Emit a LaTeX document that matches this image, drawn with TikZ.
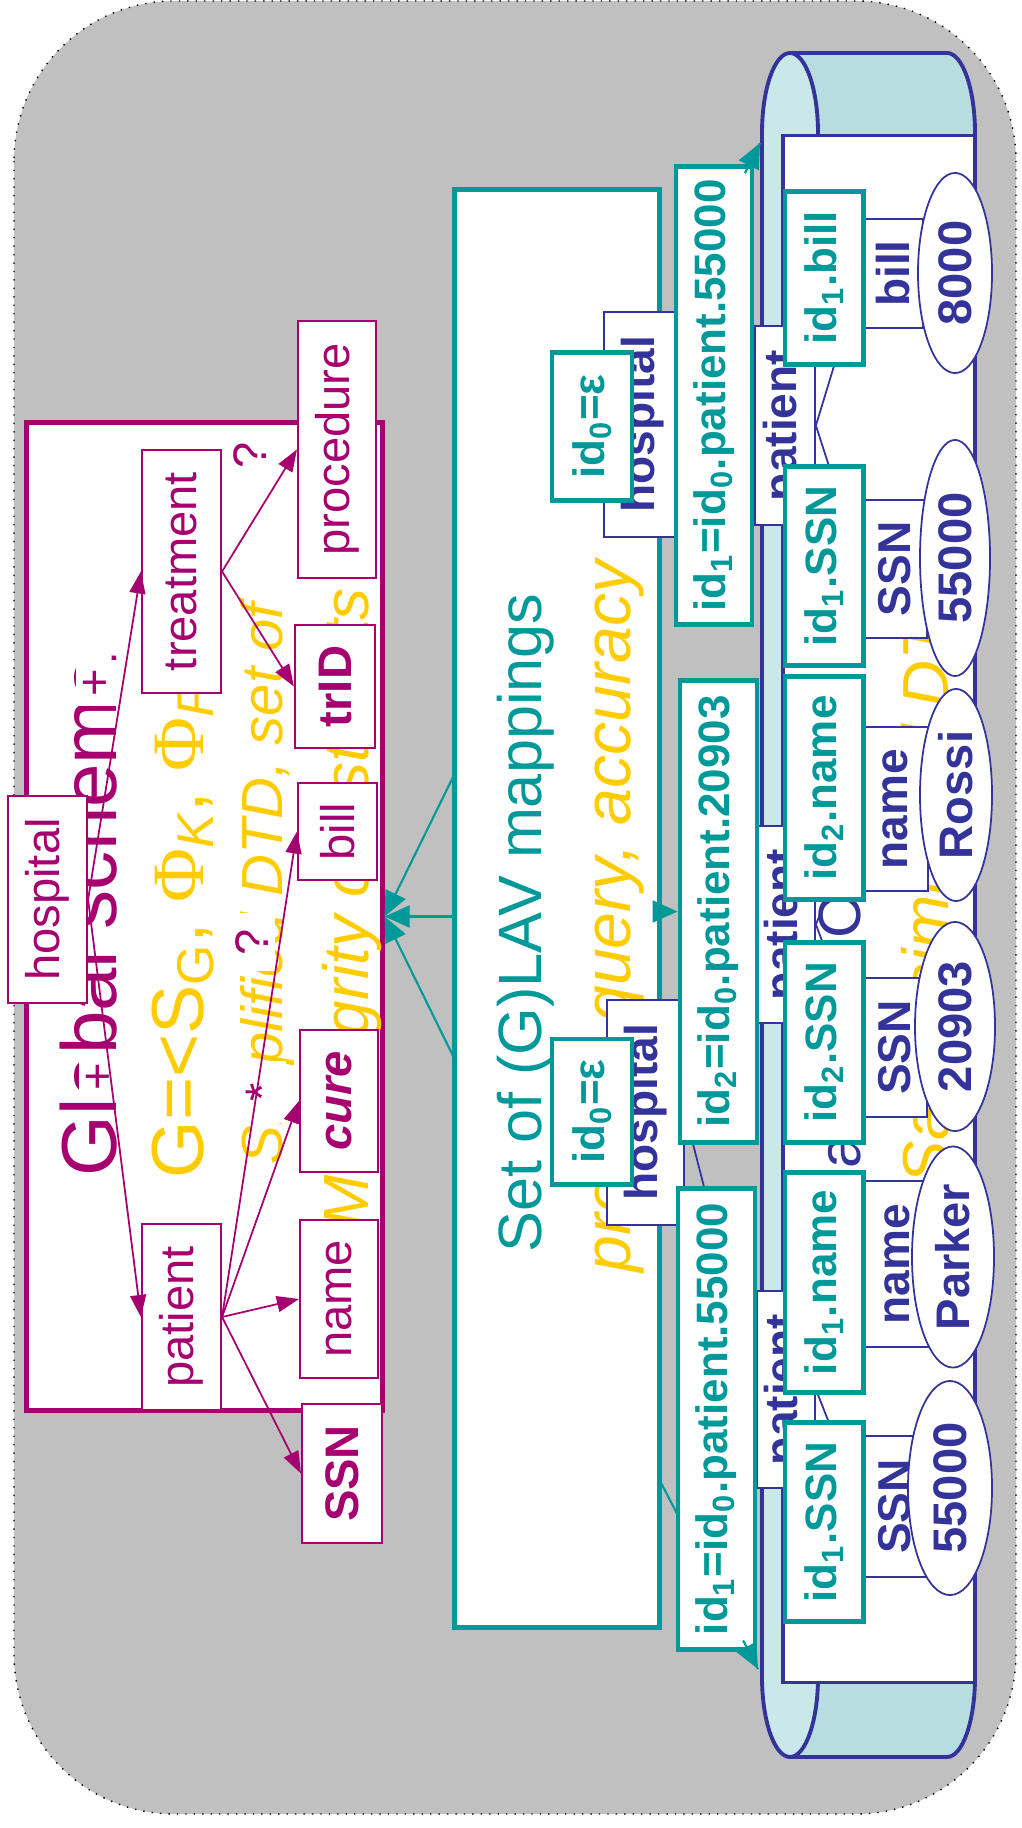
\documentclass[tikz,border=0pt]{standalone}
\usepackage{fontspec}
\setmainfont{Liberation Sans}
\newfontfamily\greekfont{Liberation Serif}
\usetikzlibrary{arrows.meta,shapes.geometric,calc}

\definecolor{globmag}{RGB}{166,0,112}
\definecolor{mapteal}{RGB}{0,153,153}
\definecolor{noteyel}{RGB}{255,204,0}
\definecolor{srcblue}{RGB}{51,51,153}
\definecolor{slidegray}{RGB}{192,192,192}
\definecolor{canbody}{RGB}{183,221,225}
\definecolor{canface}{RGB}{202,231,234}

\newcommand{\pts}[1]{\fontsize{#1}{#1}\selectfont}

\tikzset{
  gnode/.style={draw=globmag, line width=0.6pt, fill=white, text=globmag,
    rotate=90, inner sep=0pt, font=\pts{13.4pt}},
  glink/.style={globmag, line width=0.5pt, -{Triangle[length=2.2mm,width=1.6mm]}},
  card/.style={fill=white, text=globmag, rotate=90, inner sep=2pt, font=\pts{13.4pt}},
  snode/.style={draw=srcblue, line width=0.5pt, fill=white, text=srcblue,
    rotate=90, inner sep=0pt, font=\bfseries\pts{13.1pt}},
  sval/.style={ellipse, draw=srcblue, line width=0.5pt, fill=white, text=srcblue,
    rotate=90, inner sep=0pt, font=\bfseries\pts{13.4pt}},
  slink/.style={srcblue, line width=0.5pt},
  idbox/.style={draw=mapteal, line width=1.4pt, fill=white, text=mapteal,
    rotate=90, inner sep=0pt, font=\bfseries\pts{12.5pt}},
  maplink/.style={mapteal, line width=0.6pt, -{Triangle[length=2.5mm,width=2.2mm]}},
  slidetext/.style={rotate=90, anchor=base west, inner sep=0pt}
}

\begin{document}
\begin{tikzpicture}[x=0.01cm,y=-0.01cm]
\useasboundingbox (0,0) rectangle (1021,1828);
% slide background
\draw[black, dotted, line width=0.4pt, fill=slidegray, rounded corners=1.6cm]
  (14,1) rectangle (1016,1814);

% global schema
\node[draw=globmag, line width=1.4pt, fill=white, inner sep=0pt,
  minimum width=3.55cm, minimum height=9.87cm] (globbox) at (204.5,916.5) {};
\node[slidetext, text=globmag, font=\pts{22.2pt}] (globtitle) at (116,1177) {Global schema};
\node[slidetext, text=noteyel, font=\pts{21pt}] (globdef) at (203,1179)
  {G=<S\textsubscript{G}, {\greekfont Φ}\textsubscript{\itshape K}, {\greekfont Φ}\textsubscript{\itshape FK}};
\node[slidetext, text=noteyel, font=\itshape\pts{16.5pt}] (globdtd) at (282,1165) {Simplified DTD, set of};
\node[slidetext, text=noteyel, font=\itshape\pts{18.2pt}] (globic) at (368,1229) {M: integrity constraints};

% cardinalities
\node[card, minimum width=0.42cm, minimum height=0.36cm] (cardpat) at (100,1077) {+};
\node[card, minimum width=0.45cm, minimum height=0.40cm] (cardtreat) at (97,683) {+};
\node[card, minimum width=0.62cm, minimum height=0.48cm] (cardcure) at (262,1092) {*};
\node[card, minimum width=0.58cm, minimum height=0.46cm] (cardbill) at (252,942) {?};
\node[card, minimum height=0.78cm] (cardproc) at (250,455) {?};

% schema tree
\node[gnode, minimum width=2.07cm, minimum height=0.79cm] (ghosp) at (47.5,899.5) {hospital};
\node[gnode, minimum width=2.43cm, minimum height=0.79cm] (gtreat) at (181.5,571.5) {treatment};
\node[gnode, minimum width=1.86cm, minimum height=0.79cm] (gpat) at (181.5,1317) {patient};
\node[gnode, minimum width=2.57cm, minimum height=0.78cm] (gproc) at (337,449.5) {procedure};
\node[gnode, minimum width=1.23cm, minimum height=0.80cm, font=\bfseries\pts{13.4pt}] (gtrid) at (335,686.5) {trID};
\node[gnode, minimum width=0.97cm, minimum height=0.79cm] (gbill) at (337.5,831.5) {bill};
\node[gnode, minimum width=1.42cm, minimum height=0.78cm, font=\bfseries\itshape\pts{13.4pt}] (gcure) at (339,1101) {cure};
\node[gnode, minimum width=1.58cm, minimum height=0.78cm] (gname) at (339,1299) {name};
\node[gnode, minimum width=1.39cm, minimum height=0.80cm, font=\bfseries\pts{13.4pt}] (gssn) at (342,1473.5) {SSN};

\draw[glink] (ghosp.south) -- (gpat.north);
\draw[glink] (ghosp.south) -- (gtreat.north);
\draw[glink] (gtreat.south) -- (gproc.north);
\draw[glink] (gtreat.south) -- (gtrid.north);
\foreach \leaf in {gssn,gname,gcure,gbill}
  \draw[glink] (gpat.south) -- (\leaf.north);

% mappings
\node[draw=mapteal, line width=1.4pt, fill=white, inner sep=0pt,
  minimum width=2.04cm, minimum height=14.37cm] (mapbox) at (557,908.5) {};
\node[slidetext, text=mapteal, font=\pts{17.4pt}] (maptitle) at (541,1253) {Set of (G)LAV mappings};
\node[slidetext, text=noteyel, font=\itshape\pts{18.8pt}] (mapnote) at (630,1273) {process query, accuracy};

\coordinate (mapw1) at (455,773);
\coordinate (mapw2) at (455,916.5);
\coordinate (mapw3) at (455,1060);
\foreach \c in {mapw1,mapw2,mapw3}
  \draw[maplink] (\c) -- (globbox.east);

% source database
\fill[canbody] (790,53) -- (947,53) .. controls (962.5,53) and (975,89) .. (975,133)
  -- (975,1677) .. controls (975,1721) and (962.5,1757) .. (947,1757) -- (790,1757) -- cycle;
\draw[srcblue, line width=1.1pt] (790,53) -- (947,53) .. controls (962.5,53) and (975,89) .. (975,133)
  -- (975,1677) .. controls (975,1721) and (962.5,1757) .. (947,1757) -- (790,1757);
\filldraw[fill=canface, draw=srcblue, line width=1.1pt]
  (762,133) .. controls (762,89) and (774.5,53) .. (790,53)
  .. controls (805.5,53) and (818,89) .. (818,133) -- (818,1677)
  .. controls (818,1721) and (805.5,1757) .. (790,1757)
  .. controls (774.5,1757) and (762,1721) .. (762,1677) -- cycle;
\node[draw=srcblue, line width=1.1pt, fill=white, inner sep=0pt,
  minimum width=1.92cm, minimum height=15.46cm] (srctab) at (879,909) {};
\node[slidetext, text=srcblue, font=\pts{17pt}] (srctitle) at (860,1212) {Database Content};
\node[slidetext, text=noteyel, font=\itshape\pts{18.5pt}] (srcdtd) at (948,1185) {Same simplified DTD};

\coordinate (mape1) at (659,345);
\coordinate (mape2) at (659,911.5);
\coordinate (mape3) at (659,1479);
\coordinate (cantop) at (760,143);
\coordinate (canbot) at (758,1669);
\draw[mapteal, line width=0.6pt] (mape1) -- (cantop);
\draw[mapteal, line width=0.6pt] (mape3) -- (canbot);

% source tree
\node[snode, minimum width=2.25cm, minimum height=0.77cm] (dhosp1) at (642.5,424.5) {hospital};
\node[snode, minimum width=2.25cm, minimum height=0.77cm] (dhosp2) at (645.5,1112.5) {hospital};
\node[snode, minimum width=1.99cm, minimum height=0.60cm] (dpat1) at (785,425.5) {patient};
\node[snode, minimum width=1.97cm, minimum height=0.58cm] (dpat2) at (786,924.5) {patient};
\node[snode, minimum width=1.97cm, minimum height=0.58cm] (dpat3) at (786,1389.5) {patient};
\node[snode, minimum width=1.09cm, minimum height=0.60cm] (dbill1) at (893,273.5) {bill};
\node[snode, minimum width=1.38cm, minimum height=0.64cm] (dssn1) at (895,569) {SSN};
\node[snode, minimum width=1.64cm, minimum height=0.65cm] (dname2) at (895.5,809) {name};
\node[snode, minimum width=1.39cm, minimum height=0.64cm] (dssn2) at (895,1047.5) {SSN};
\node[snode, minimum width=1.66cm, minimum height=0.66cm] (dname3) at (897,1264) {name};
\node[snode, minimum width=1.41cm, minimum height=0.64cm] (dssn3) at (895,1506.5) {SSN};

\node[sval, minimum width=2.00cm, minimum height=0.74cm] (v8000) at (955,273) {8000};
\node[sval, minimum width=2.36cm, minimum height=0.70cm] (v55000a) at (955,558) {55000};
\node[sval, minimum width=2.12cm, minimum height=0.72cm] (vrossi) at (956,795) {Rossi};
\node[sval, minimum width=2.09cm, minimum height=0.80cm] (v20903) at (955,1026.5) {20903};
\node[sval, minimum width=2.21cm, minimum height=0.82cm] (vparker) at (953,1257) {Parker};
\node[sval, minimum width=2.14cm, minimum height=0.84cm] (v55000b) at (950,1488) {55000};

\draw[slink] (dhosp1.south) -- (dpat1.north);
\draw[slink] (dhosp2.south) -- (dpat2.north);
\draw[slink] (dhosp2.south) -- (dpat3.north);
\draw[slink] (dpat1.south) -- (dbill1.north);
\draw[slink] (dpat1.south) -- (dssn1.north);
\draw[slink] (dpat2.south) -- (dname2.north);
\draw[slink] (dpat2.south) -- (dssn2.north);
\draw[slink] (dpat3.south) -- (dname3.north);
\draw[slink] (dpat3.south) -- (dssn3.north);

% identifiers
\node[idbox, minimum width=1.47cm, minimum height=0.80cm] (ideps1) at (592,426.5) {id\textsubscript{0}=ε};
\node[idbox, minimum width=1.45cm, minimum height=0.80cm] (ideps2) at (592,1111.5) {id\textsubscript{0}=ε};
\node[idbox, minimum width=4.57cm, minimum height=0.76cm] (idpat1) at (714,395.5) {id\textsubscript{1}=id\textsubscript{0}.patient.55000};
\node[idbox, minimum width=4.61cm, minimum height=0.77cm] (idpat2) at (718.5,911.5) {id\textsubscript{2}=id\textsubscript{0}.patient.20903};
\node[idbox, minimum width=4.60cm, minimum height=0.77cm] (idpat3) at (716.5,1419) {id\textsubscript{1}=id\textsubscript{0}.patient.55000};
\node[idbox, minimum width=1.72cm, minimum height=0.78cm] (idbill1) at (824,278) {id\textsubscript{1}.bill};
\node[idbox, minimum width=1.98cm, minimum height=0.78cm] (idssn1) at (824,566) {id\textsubscript{1}.SSN};
\node[idbox, minimum width=2.22cm, minimum height=0.78cm] (idname2) at (824,788) {id\textsubscript{2}.name};
\node[idbox, minimum width=1.99cm, minimum height=0.78cm] (idssn2) at (824,1042.5) {id\textsubscript{2}.SSN};
\node[idbox, minimum width=2.19cm, minimum height=0.78cm] (idname3) at (824,1282.5) {id\textsubscript{1}.name};
\node[idbox, minimum width=1.98cm, minimum height=0.78cm] (idssn3) at (824,1522) {id\textsubscript{1}.SSN};

\draw[maplink] ($(mape1)!0.85!(cantop)$) -- (cantop);
\draw[maplink] ($(mape3)!0.85!(canbot)$) -- (canbot);
\draw[maplink] (mape2) -- (idpat2.north);
\end{tikzpicture}
\end{document}
